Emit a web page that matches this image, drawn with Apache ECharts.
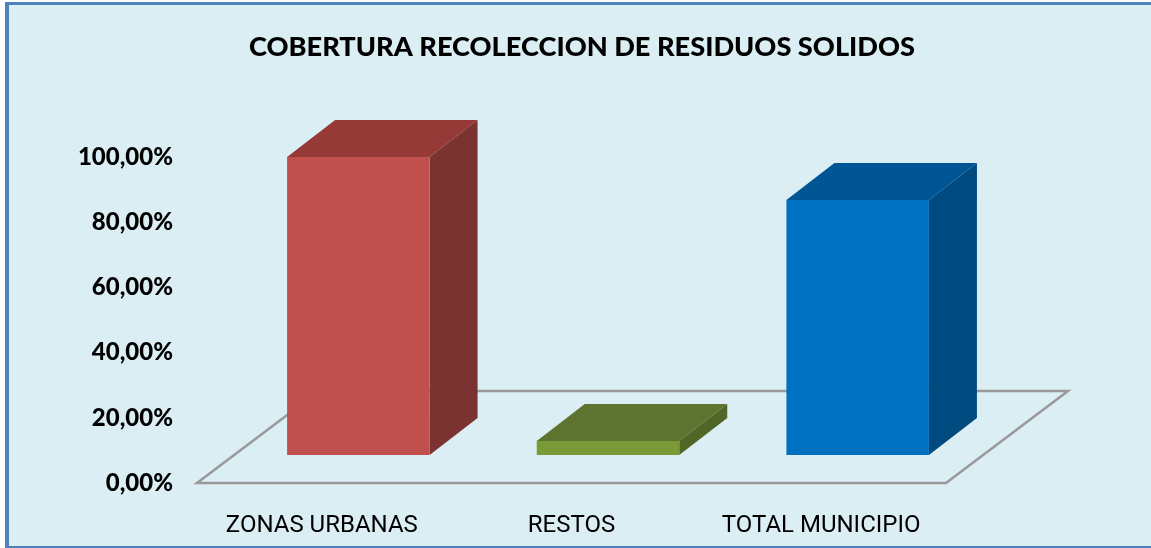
<!DOCTYPE html>
<html><head><meta charset="utf-8">
<style>html,body{margin:0;padding:0;background:#fff}#c{width:1151px;height:548px}</style>
<script src="https://cdn.jsdelivr.net/npm/echarts@6/dist/echarts.min.js"></script>
</head><body><div id="c"></div>
<script>
const categories = ['ZONAS URBANAS', 'RESTOS', 'TOTAL MUNICIPIO'];
const values = [91.4, 4.3, 78.2];
const tickStep = 20;
const frontColors = ['#C0504D', '#7A9A38', '#0070C0'];
const topColors = ['#953A37', '#5F7330', '#005695'];
const sideColors = ['#7A3330', '#4F6626', '#004A7F'];

// projection of the fake 3D floor, in pixels
const floorDepth = [122, -92];
const barShift = [36.5, -28];
const barWidth = 142.5;
const barDepth = [48, -37];

const chart = echarts.init(document.getElementById('c'), null, {renderer: 'canvas'});

function poly(pts, fill) {
  return {type: 'polygon', shape: {points: pts}, style: {fill: fill, stroke: null}};
}
function renderBar(params, api) {
  const i = api.value(0);
  const base = api.coord([i, 0]);
  const top = api.coord([i, api.value(1)]);
  const l = base[0] + barShift[0] - barWidth / 2, r = l + barWidth;
  const b = base[1] + barShift[1], t = top[1] + barShift[1];
  const dx = barDepth[0], dy = barDepth[1];
  return {type: 'group', children: [
    poly([[r, b], [r + dx, b + dy], [r + dx, t + dy], [r, t]], sideColors[i]),
    poly([[l, t], [r, t], [r + dx, t + dy], [l + dx, t + dy]], topColors[i]),
    poly([[l, b], [r, b], [r, t], [l, t]], frontColors[i])
  ]};
}
function renderFloor(params, api) {
  const band = api.size([1, 0])[0];
  const p0 = api.coord([0, 0]), p2 = api.coord([2, 0]);
  const l = p0[0] - band / 2, r = p2[0] + band / 2, y = p0[1];
  const dx = floorDepth[0], dy = floorDepth[1];
  return {type: 'polygon', shape: {points: [[l, y], [r, y], [r + dx, y + dy], [l + dx, y + dy]]},
    style: {fill: 'none', stroke: '#999999', lineWidth: 2.5}};
}

chart.setOption({
  animation: false,
  backgroundColor: '#ffffff',
  title: {
    text: 'COBERTURA RECOLECCION DE RESIDUOS SOLIDOS',
    left: 577, top: 29, textAlign: 'center',
    textStyle: {fontFamily: 'Lato', fontWeight: 900, fontSize: 27.2, color: '#000'}
  },
  graphic: [
    {type: 'rect', z: -11, silent: true, shape: {x: 5, y: 2, width: 1146, height: 546}, style: {fill: '#4F81BD'}},
    {type: 'rect', z: -10, silent: true, shape: {x: 9, y: 5, width: 1142, height: 541}, style: {fill: '#DBEEF4'}}
  ],
  grid: {left: 197, right: 205, top: 157, bottom: 65},
  xAxis: {
    type: 'category', data: categories,
    axisLine: {show: false}, axisTick: {show: false}, splitLine: {show: false},
    axisLabel: {margin: 31, fontFamily: 'Roboto', fontSize: 24, color: '#000', interval: 0}
  },
  yAxis: {
    type: 'value', min: 0, max: 100, interval: tickStep,
    axisLine: {show: false}, axisTick: {show: false}, splitLine: {show: false},
    axisLabel: {
      margin: 24, fontFamily: 'Lato', fontWeight: 900, fontSize: 24, color: '#000',
      formatter: v => v.toFixed(2).replace('.', ',') + '%'
    }
  },
  series: [
    {type: 'custom', renderItem: renderFloor, silent: true, clip: false, z: 1,
     data: [[0, 0]], encode: {x: 0, y: 1}},
    {type: 'custom', renderItem: renderBar, clip: false, z: 2,
     data: values.map((v, i) => [i, v]), encode: {x: 0, y: 1}}
  ]
});
</script></body></html>
